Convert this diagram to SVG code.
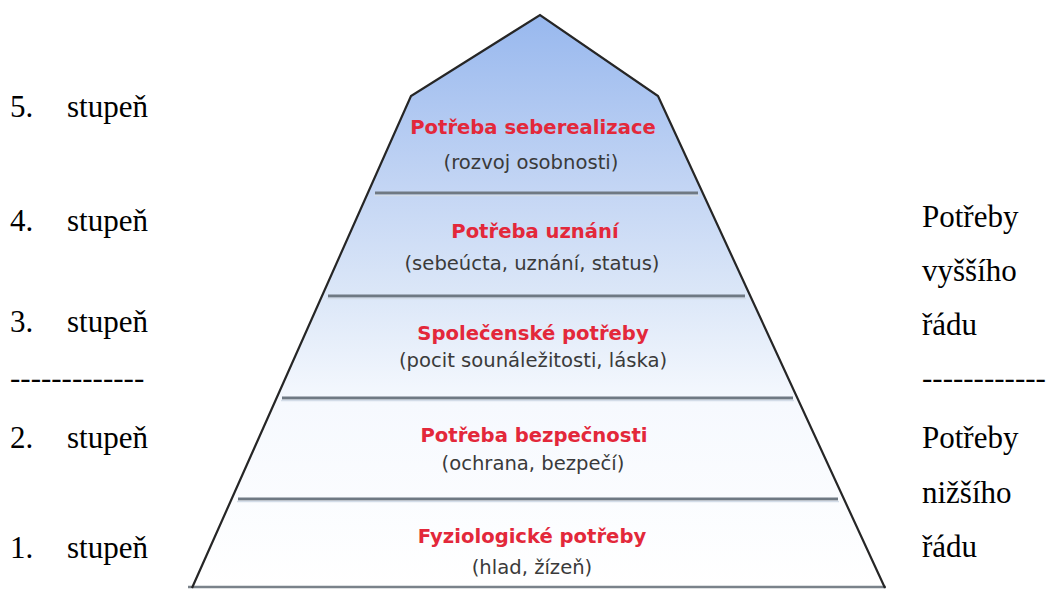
<svg xmlns="http://www.w3.org/2000/svg" width="1048" height="589" viewBox="0 0 1048 589">
  <defs>
    <linearGradient id="pyrFill" gradientUnits="userSpaceOnUse" x1="0" y1="15" x2="0" y2="588">
      <stop offset="0" stop-color="#98b8ee"/>
      <stop offset="0.3" stop-color="#c3d5f4"/>
      <stop offset="0.5" stop-color="#dde8f8"/>
      <stop offset="0.68" stop-color="#f6f9fe"/>
      <stop offset="1" stop-color="#ffffff"/>
    </linearGradient>
  </defs>
  <style>
    .side { font-family: "Liberation Serif", "Times New Roman", serif; font-size: 31px; fill: #000; }
    .title { font-family: "DejaVu Sans", Verdana, sans-serif; font-weight: bold; font-size: 19.6px; fill: #e3283a; text-anchor: middle; }
    .sub { font-family: "DejaVu Sans", Verdana, sans-serif; font-size: 19.6px; fill: #3a3a3a; text-anchor: middle; }
    .div { stroke: #6f7983; stroke-width: 3; }
    .divl { stroke: #d3dce8; stroke-width: 1.5; }
    .outline { fill: none; stroke: #262626; stroke-width: 2.2; stroke-linejoin: miter; }
  </style>
  <rect width="1048" height="589" fill="#ffffff"/>

  <g id="pyramid">
    <polygon points="192,588 411,96 540,15 658,96 885,588" fill="url(#pyrFill)"/>
    <line x1="188" y1="587" x2="886" y2="587" stroke="#7a828a" stroke-width="2.5"/>
  </g>

  <g id="connectors">
    <line class="div" x1="375" y1="193" x2="698" y2="193"/>
    <line class="divl" x1="374" y1="195.5" x2="699" y2="195.5"/>
    <line class="div" x1="328" y1="296" x2="745" y2="296"/>
    <line class="divl" x1="327" y1="298.5" x2="746" y2="298.5"/>
    <line class="div" x1="282" y1="398" x2="793" y2="398"/>
    <line class="divl" x1="281" y1="400.5" x2="794" y2="400.5"/>
    <line class="div" x1="238" y1="499" x2="838" y2="499"/>
    <line class="divl" x1="237" y1="501.5" x2="839" y2="501.5"/>
    <polyline class="outline" points="192,588 411,96 540,15 658,96 885,588"/>
  </g>

  <g id="level5">
    <text class="title" x="533" y="134">Potřeba seberealizace</text>
    <text class="sub" x="531" y="169">(rozvoj osobnosti)</text>
  </g>
  <g id="level4">
    <text class="title" x="535" y="238">Potřeba uznání</text>
    <text class="sub" x="532" y="270">(sebeúcta, uznání, status)</text>
  </g>
  <g id="level3">
    <text class="title" x="533" y="340">Společenské potřeby</text>
    <text class="sub" x="533" y="367">(pocit sounáležitosti, láska)</text>
  </g>
  <g id="level2">
    <text class="title" x="534" y="442">Potřeba bezpečnosti</text>
    <text class="sub" x="533" y="470">(ochrana, bezpečí)</text>
  </g>
  <g id="level1">
    <text class="title" x="532" y="543">Fyziologické potřeby</text>
    <text class="sub" x="532" y="574">(hlad, žízeň)</text>
  </g>

  <g id="left-labels">
    <text class="side" y="117"><tspan x="10">5.</tspan><tspan x="67">stupeň</tspan></text>
    <text class="side" y="231"><tspan x="10">4.</tspan><tspan x="67">stupeň</tspan></text>
    <text class="side" y="332"><tspan x="10">3.</tspan><tspan x="67">stupeň</tspan></text>
    <text class="side" x="10" y="388">-------------</text>
    <text class="side" y="448"><tspan x="10">2.</tspan><tspan x="67">stupeň</tspan></text>
    <text class="side" y="558"><tspan x="10">1.</tspan><tspan x="67">stupeň</tspan></text>
  </g>

  <g id="right-labels">
    <text class="side" x="922" y="227">Potřeby</text>
    <text class="side" x="922" y="281">vyššího</text>
    <text class="side" x="922" y="335">řádu</text>
    <text class="side" x="922" y="388">------------</text>
    <text class="side" x="922" y="448">Potřeby</text>
    <text class="side" x="922" y="503">nižšího</text>
    <text class="side" x="922" y="557">řádu</text>
  </g>
</svg>
